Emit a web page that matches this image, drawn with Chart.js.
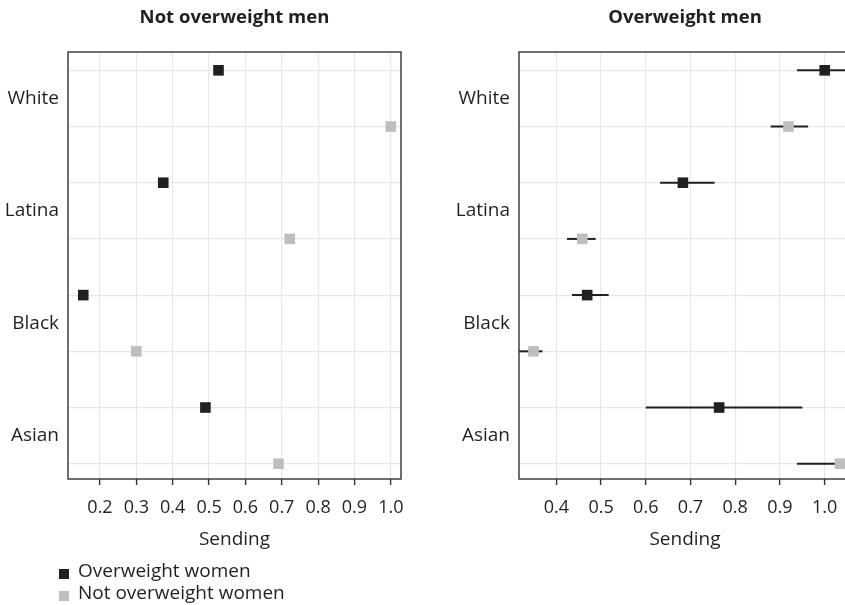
<!DOCTYPE html>
<html>
<head>
<meta charset="utf-8">
<script src="https://cdn.jsdelivr.net/npm/chart.js@4/dist/chart.umd.min.js"></script>
<style>
  html, body { margin: 0; padding: 0; background: #fff; }
  body { width: 845px; height: 605px; overflow: hidden; position: relative; font-family: "Open Sans", sans-serif; color: #231f20; }
  .wrap { position: absolute; top: 0; height: 560px; }
  .wrap canvas { display: block; }
  .leg { position: absolute; left: 59px; font-size: 19px; line-height: 19px; white-space: nowrap; }
  .leg .sw { position: absolute; left: 0; width: 10px; height: 10px; }
  .leg .tx { position: absolute; left: 19px; top: 0; }
</style>
</head>
<body>
<div class="wrap" style="left:0;width:420px;"><canvas id="c1" width="420" height="560"></canvas></div>
<div class="wrap" style="left:420px;width:440px;"><canvas id="c2" width="440" height="560"></canvas></div>
<div class="leg" style="top:561px;"><span class="sw" style="top:8px;background:#231f20"></span><span class="tx">Overweight women</span></div>
<div class="leg" style="top:583px;"><span class="sw" style="top:8px;background:#bcbec0"></span><span class="tx">Not overweight women</span></div>
<script>
// ---- data ----
const categories = ['White', 'Latina', 'Black', 'Asian'];
const panelTitles = ['Not overweight men', 'Overweight men'];
const seriesNames = ['Overweight women', 'Not overweight women'];

// Panel 1: Not overweight men
const notOwMen_owWomen    = [0.526, 0.374, 0.154, 0.490];
const notOwMen_notOwWomen = [1.000, 0.722, 0.300, 0.691];

// Panel 2: Overweight men (estimate, lower, upper)
const owMen_owWomen       = [1.000, 0.683, 0.469, 0.764];
const owMen_owWomen_lo    = [0.938, 0.632, 0.435, 0.600];
const owMen_owWomen_hi    = [1.062, 0.754, 0.517, 0.950];
const owMen_notOwWomen    = [0.919, 0.458, 0.349, 1.034];
const owMen_notOwWomen_lo = [0.879, 0.424, 0.310, 0.938];
const owMen_notOwWomen_hi = [0.963, 0.488, 0.369, 1.130];

const ticks1 = [0.2, 0.3, 0.4, 0.5, 0.6, 0.7, 0.8, 0.9, 1.0];
const ticks2 = [0.4, 0.5, 0.6, 0.7, 0.8, 0.9, 1.0];
const xRange1 = [0.112, 1.028];
const xRange2 = [0.3166, 1.0588];

// ---- styling ----
const DARK = '#231f20';
const GRAY = '#bcbec0';
const GRID = '#e8e8e8';
const FRAME = '#333333';
const FONT = '"Open Sans", sans-serif';

const framePlugin = {
  id: 'frame',
  afterDraw(chart) {
    const a = chart.chartArea, ctx = chart.ctx;
    ctx.save();
    ctx.strokeStyle = FRAME;
    ctx.lineWidth = 1.4;
    ctx.strokeRect(a.left, a.top, a.right - a.left, a.bottom - a.top);
    ctx.restore();
  }
};

// row index: category i -> overweight women at 2i, not overweight women at 2i+1
function pts(vals, off) { return vals.map((v, i) => ({ x: v, y: 2 * i + off })); }

function errDatasets(lo, hi, off) {
  return lo.map((l, i) => ({
    type: 'line',
    label: 'err',
    data: [{ x: l, y: 2 * i + off }, { x: hi[i], y: 2 * i + off }],
    borderColor: DARK,
    borderWidth: 2,
    pointRadius: 0,
    showLine: true,
    order: 2
  }));
}

function makeChart(id, title, owVals, nowVals, errs, xr, xticks, yAxisWidth, padRight) {
  const datasets = [
    { label: seriesNames[0], data: pts(owVals, 0), backgroundColor: DARK, borderColor: DARK,
      pointStyle: 'rect', pointRadius: 7.5, borderWidth: 0, order: 0 },
    { label: seriesNames[1], data: pts(nowVals, 1), backgroundColor: GRAY, borderColor: GRAY,
      pointStyle: 'rect', pointRadius: 7.5, borderWidth: 0, order: 0 }
  ].concat(errs);

  return new Chart(document.getElementById(id), {
    type: 'scatter',
    data: { datasets },
    options: {
      responsive: false,
      animation: false,
      layout: { padding: { left: 0, right: padRight, top: 0, bottom: 0 } },
      plugins: {
        legend: { display: false },
        tooltip: { enabled: false },
        title: {
          display: true, text: title, fullSize: false, color: DARK,
          font: { family: FONT, size: 18.5, weight: 'bold', lineHeight: 1.2 },
          padding: { top: 7, bottom: 22.8 }
        }
      },
      scales: {
        x: {
          type: 'linear', position: 'bottom', min: xr[0], max: xr[1],
          afterBuildTicks: (s) => { s.ticks = xticks.map(v => ({ value: v })); },
          afterFit: (s) => { s.height = 81; },
          border: { display: false },
          grid: { color: GRID, lineWidth: 1.2, tickColor: FRAME, tickLength: 6, tickWidth: 1.4 },
          ticks: { autoSkip: false, maxRotation: 0, color: DARK, padding: 12,
                   font: { family: FONT, size: 18 }, callback: (v) => Number(v).toFixed(1) },
          title: { display: true, text: 'Sending', color: DARK,
                   font: { family: FONT, size: 19, lineHeight: 1.2 }, padding: { top: 0, bottom: 9 } }
        },
        y: {
          type: 'linear', position: 'left', reverse: true, min: -0.326, max: 7.272,
          afterBuildTicks: (s) => {
            const t = [];
            for (let v = 0; v <= 7; v += 0.5) t.push({ value: v });
            s.ticks = t;
          },
          afterFit: (s) => { s.width = yAxisWidth; },
          border: { display: false },
          grid: { drawTicks: false, lineWidth: 1.2,
                  color: (c) => (c.tick && Number.isInteger(c.tick.value)) ? GRID : 'rgba(0,0,0,0)' },
          ticks: { autoSkip: false, color: DARK, padding: 9, font: { family: FONT, size: 19 },
                   callback: (v) => {
                     const k = (v - 0.5) / 2;
                     return Number.isInteger(k) && k >= 0 && k < categories.length ? categories[k] : '';
                   } }
        }
      }
    },
    plugins: [framePlugin]
  });
}

makeChart('c1', panelTitles[0], notOwMen_owWomen, notOwMen_notOwWomen, [],
          xRange1, ticks1, 68, 19);
makeChart('c2', panelTitles[1], owMen_owWomen, owMen_notOwWomen,
          errDatasets(owMen_owWomen_lo, owMen_owWomen_hi, 0).concat(errDatasets(owMen_notOwWomen_lo, owMen_notOwWomen_hi, 1)),
          xRange2, ticks2, 99, 9);
</script>
</body>
</html>
